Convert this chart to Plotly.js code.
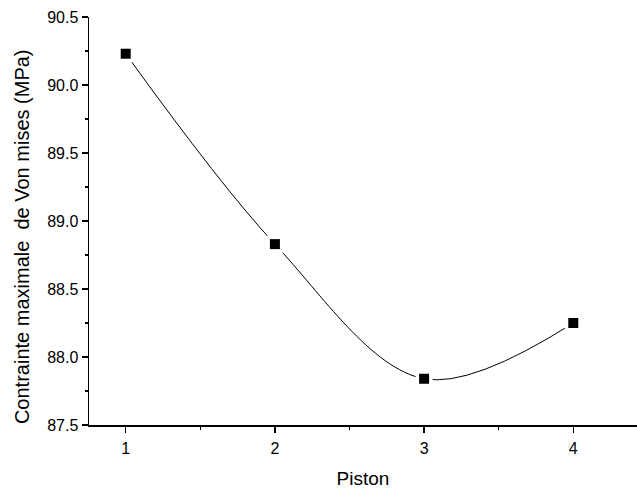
<!DOCTYPE html>
<html>
<head>
<meta charset="utf-8">
<script src="https://cdn.plot.ly/plotly-3.0.1.min.js"></script>
<style>html,body{margin:0;padding:0;background:#fff}#chart{width:637px;height:490px}</style>
</head>
<body>
<div id="chart"></div>
<script>
const pistons = [1, 2, 3, 4];
const stressMPa = [90.23, 88.83, 87.84, 88.25];
const xTicks = [1, 2, 3, 4];
const yTicks = [87.5, 88.0, 88.5, 89.0, 89.5, 90.0, 90.5];
const yTickText = ["87.5", "88.0", "88.5", "89.0", "89.5", "90.0", "90.5"];
const xTitle = "Piston";
const yTitle = "Contrainte maximale  de Von mises (MPa)";

const font = "Liberation Sans, Arial, sans-serif";

const traces = [
  {x: pistons, y: stressMPa, mode: "lines", type: "scatter",
   line: {shape: "spline", smoothing: 1, color: "#000", width: 1}, hoverinfo: "skip"},
  {x: pistons, y: stressMPa, mode: "markers", type: "scatter",
   marker: {symbol: "square", size: 17, color: "#fff"}, hoverinfo: "skip"},
  {x: pistons, y: stressMPa, mode: "markers", type: "scatter",
   marker: {symbol: "square", size: 10, color: "#000"}}
];

const layout = {
  width: 637, height: 490,
  margin: {l: 89, r: 0, t: 17, b: 65},
  showlegend: false,
  paper_bgcolor: "#fff", plot_bgcolor: "#fff",
  font: {family: font, color: "#000", size: 16},
  xaxis: {
    range: [0.754, 4.427], tickvals: xTicks, ticktext: xTicks.map(String),
    ticks: "outside", ticklen: 6, tickwidth: 1.5, tickcolor: "#000",
    showline: true, linecolor: "#000", linewidth: 1.5, showgrid: false, zeroline: false,
    tickfont: {size: 16, family: font}, ticklabelstandoff: 2,
    minor: {dtick: 0.5, tick0: 0.5, ticks: "outside", ticklen: 3, tickwidth: 1.5, tickcolor: "#000", showgrid: false},
    title: {text: xTitle, font: {size: 19, family: font}, standoff: 16}
  },
  yaxis: {
    range: [87.5, 90.5], tickvals: yTicks, ticktext: yTickText,
    ticks: "outside", ticklen: 6, tickwidth: 1.5, tickcolor: "#000",
    showline: true, linecolor: "#000", linewidth: 1.5, showgrid: false, zeroline: false,
    tickfont: {size: 16, family: font},
    minor: {dtick: 0.25, tick0: 87.5, ticks: "outside", ticklen: 3, tickwidth: 1.5, tickcolor: "#000", showgrid: false}
  },
  annotations: [{
    text: yTitle, textangle: -90, showarrow: false,
    xref: "paper", yref: "paper", x: -0.1223, y: 0.463,
    xanchor: "center", yanchor: "middle",
    font: {size: 20, family: font, color: "#000"}
  }],
  shapes: [{
    type: "line", xref: "paper", yref: "paper", x0: -0.01, x1: 0, y0: 0, y1: 0,
    line: {color: "#000", width: 1.5}
  }]
};

Plotly.newPlot("chart", traces, layout, {displayModeBar: false, staticPlot: true});
</script>
</body>
</html>
